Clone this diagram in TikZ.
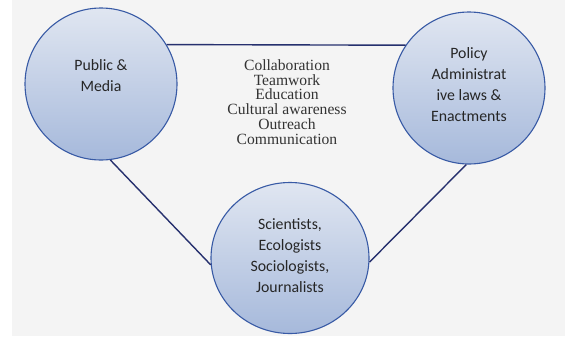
\documentclass[tikz,border=0pt]{standalone}
\usepackage{fontspec}
\setmainfont{Liberation Serif}
\newfontfamily\calibri{Carlito}
\usetikzlibrary{calc,positioning,shapes.geometric}
\definecolor{ringblue}{RGB}{56,90,165}
\definecolor{linkblue}{RGB}{38,48,110}
\definecolor{shadetop}{RGB}{224,230,241}
\definecolor{shadebot}{RGB}{166,185,219}
\definecolor{paper}{RGB}{244,244,244}

\begin{document}
\begin{tikzpicture}[x=1pt, y=-1pt]
    \tikzset{GroupStyle/.style = {circle, draw=ringblue, line width=1.1pt,
        top color=shadetop, bottom color=shadebot,
        minimum size=152pt, inner sep=0pt},
      LabelStyle/.style = {align=center, text=black!85,
        font=\calibri\fontsize{15.8}{21}\selectfont},
      LinkStyle/.style = {draw=linkblue, line width=1.4pt}}
    \useasboundingbox (0,0) rectangle (565,338);
    \fill[paper] (12,0) rectangle (565,336);
    \node[GroupStyle] (PM) at (101,84) {};
    \node[GroupStyle] (PL) at (469,88) {};
    \node[GroupStyle, ellipse, minimum width=158pt, minimum height=151pt] (SC) at (290,258) {};
    \draw[LinkStyle] (PM.31) -- (PL.146);
    \draw[LinkStyle] (PM.-83) -- (SC.185);
    \draw[LinkStyle] (PL.-92) -- (SC.-3);
    \node[LabelStyle] (PMt) at ($(PM) + (0,-8)$) {Public \&\\Media};
    \node[LabelStyle] (PLt) at ($(PL) + (0,-3)$) {Policy\\Administrat\\ive laws \&\\Enactments};
    \node[LabelStyle] (SCt) at ($(SC) + (0,-2)$) {Scientists,\\Ecologists\\Sociologists,\\Journalists};
    \node[align=center, text=black!80, font=\fontsize{15.6}{14.8}\selectfont] (ties) at (287,102)
      {Collaboration\\Teamwork\\Education\\Cultural awareness\\Outreach\\Communication};
\end{tikzpicture}
\end{document}
